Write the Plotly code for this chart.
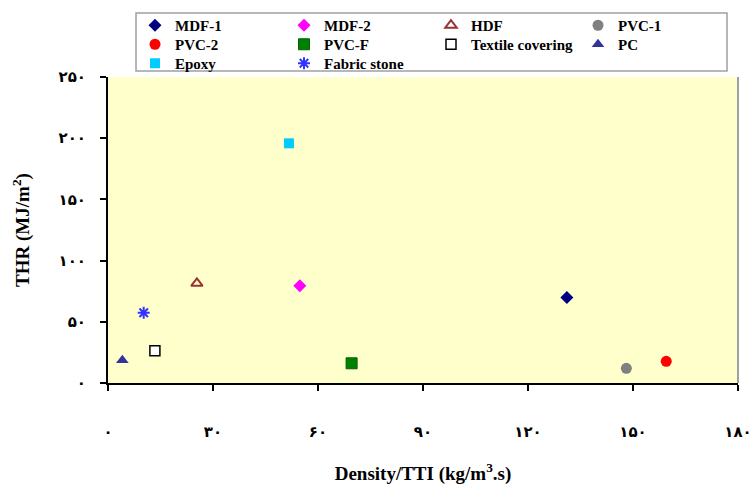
import plotly.graph_objects as go

# Materials and their measured values
materials = ["MDF-1", "MDF-2", "HDF", "PVC-1", "PVC-2", "PVC-F",
             "Textile covering", "PC", "Epoxy", "Fabric stone"]
density_tti = [131.1, 54.8, 25.4, 148.1, 159.5, 69.6, 13.4, 4.1, 51.7, 10.2]
thr = [69.8, 79.5, 81.4, 12.0, 17.7, 16.1, 26.4, 18.6, 195.8, 57.4]

# Tick values with Persian digit labels
x_ticks = [0, 30, 60, 90, 120, 150, 180]
x_labels = ["۰", "۳۰", "۶۰", "۹۰", "۱۲۰", "۱۵۰", "۱۸۰"]
y_ticks = [0, 50, 100, 150, 200, 250]
y_labels = ["۰", "۵۰", "۱۰۰", "۱۵۰", "۲۰۰", "۲۵۰"]

# Marker style per material: (symbol, fill, line colour, line width, size)
styles = {
    "MDF-1": ("diamond", "#000080", "#000080", 0, 10),
    "MDF-2": ("diamond", "#FF00FF", "#FF00FF", 0, 10),
    "HDF": ("triangle-up", "rgba(0,0,0,0)", "#993333", 2, 10),
    "PVC-1": ("circle", "#808080", "#808080", 0, 11),
    "PVC-2": ("circle", "#FF0000", "#FF0000", 0, 11),
    "PVC-F": ("square", "#008000", "#006400", 1, 11),
    "Textile covering": ("square", "#FFFFFF", "#000000", 1.5, 10),
    "PC": ("triangle-up", "#333399", "#333399", 0, 11),
    "Epoxy": ("square", "#00CCFF", "#00CCFF", 0, 10),
    "Fabric stone": ("asterisk-open", "#3333FF", "#3333FF", 2, 10),
}

font_family = "Liberation Serif, Times New Roman, DejaVu Sans, serif"
digit_family = "DejaVu Sans, Noto Sans, sans-serif"

# Figure geometry (pixels)
W, H = 752, 486
ML, MR, MT, MB = 108, 14, 77, 103
PW, PH = W - ML - MR, H - MT - MB

def px_to_paper_x(px):
    return (px - ML) / PW

def px_to_paper_y(py):
    return (H - MB - py) / PH

# Key grid: 4 columns, filled row by row
col_px = [154, 303, 450, 597]
row_px = [25.5, 44.5, 63.5]

fig = go.Figure()
legend_layout = {}
for i, (name, xv, yv) in enumerate(zip(materials, density_tti, thr)):
    sym, fill, lc, lw, sz = styles[name]
    key = "legend" if i == 0 else f"legend{i + 1}"
    fig.add_trace(go.Scatter(
        x=[xv], y=[yv], mode="markers", name=name, legend=key,
        marker=dict(symbol=sym, color=fill, size=sz,
                    line=dict(color=lc, width=lw)),
    ))
    r, c = divmod(i, 4)
    legend_layout[key] = dict(
        x=px_to_paper_x(col_px[c] - 19), y=px_to_paper_y(row_px[r]),
        xanchor="left", yanchor="middle", bgcolor="rgba(0,0,0,0)",
        borderwidth=0, itemwidth=30,
        font=dict(family=font_family, size=15, color="#000000", weight="bold"),
    )

axis_common = dict(
    showgrid=False, zeroline=False, showline=True, linecolor="#000000",
    linewidth=2, ticks="outside", ticklen=6, tickwidth=2, tickcolor="#000000",
    ticklabeloverflow="allow", automargin=False,
    tickfont=dict(family=digit_family, size=15, color="#000000", weight="bold"),
)

title_font = dict(family=font_family, size=19, color="#000000", weight="bold")

fig.update_xaxes(
    range=[0, 180], tickvals=x_ticks, ticktext=x_labels,
    ticklabelstandoff=28,
    title=dict(text="Density/TTI (kg/m<sup>3</sup>.s)", standoff=27,
               font=title_font),
    **axis_common,
)
fig.update_yaxes(
    range=[0, 250], tickvals=y_ticks, ticktext=y_labels,
    ticklabelstandoff=11,
    title=dict(text="THR (MJ/m<sup>2</sup>)", standoff=24, font=title_font),
    **axis_common,
)

# Right border of the plotting area
fig.add_shape(type="line", xref="paper", yref="paper", x0=1, x1=1, y0=0, y1=1,
              line=dict(color="#A0A0A0", width=2))

# Frame around the key
fig.add_shape(type="rect", xref="paper", yref="paper",
              x0=px_to_paper_x(136), x1=px_to_paper_x(727),
              y0=px_to_paper_y(71), y1=px_to_paper_y(13),
              line=dict(color="#A0A0A0", width=1.5), fillcolor="#FFFFFF",
              layer="below")

fig.update_layout(
    width=W, height=H,
    margin=dict(l=ML, r=MR, t=MT, b=MB, autoexpand=False),
    paper_bgcolor="#FFFFFF", plot_bgcolor="#FFFFCC",
    showlegend=True,
    **legend_layout,
)

fig.write_html("out.html")
